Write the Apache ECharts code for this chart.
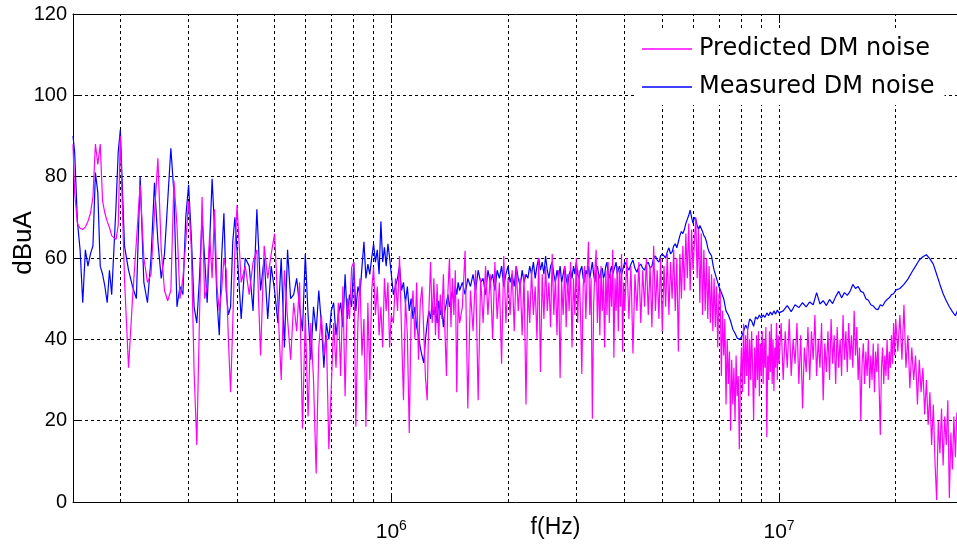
<!DOCTYPE html>
<html>
<head>
<meta charset="utf-8">
<script src="https://cdn.jsdelivr.net/npm/echarts@6/dist/echarts.min.js"></script>
<style>
  html, body { margin: 0; padding: 0; background: #fff; }
  #chart { width: 957px; height: 544px; }
</style>
</head>
<body>
<div id="chart"></div>
<script>
// Sweep frequencies (kHz) common to both spectra, 151 kHz - 7 MHz
const freqSharedKHz = [
  // 151 kHz - 200 kHz
  151,152.5,155,157.5,160,162.5,165,167.5,170,172.5,175,177.5,180,182.5,185,187.5,190,192.5,195,197.5,200,
  // 205 kHz - 400 kHz
  205,210,215,220,225,230,235,240,245,250,255,260,265,270,275,280,285,290,295,300,
  305,310,315,320,325,330,335,340,345,350,355,360,365,370,375,380,385,390,395,400,
  // 410 kHz - 1 MHz
  410,420,430,440,450,460,470,480,490,500,510,520,530,540,550,560,570,580,590,600,
  610,620,630,640,650,660,670,680,690,700,710,720,730,740,750,760,770,780,790,800,
  810,820,830,840,850,860,870,880,890,900,910,920,930,940,950,960,970,980,990,1000,
  // 1 MHz - 1.5 MHz
  1012.5,1025,1037.5,1050,1062.5,1075,1087.5,1100,1112.5,1125,1137.5,1150,1162.5,1175,1187.5,1200,1212.5,1225,1237.5,1250,
  1262.5,1275,1287.5,1300,1312.5,1325,1337.5,1350,1362.5,1375,1387.5,1400,1412.5,1425,1437.5,1450,1462.5,1475,1487.5,1500,
  // 1.5 MHz - 4 MHz
  1525,1550,1575,1600,1625,1650,1675,1700,1725,1750,1775,1800,1825,1850,1875,1900,1925,1950,1975,2000,
  2025,2050,2075,2100,2125,2150,2175,2200,2225,2250,2275,2300,2325,2350,2375,2400,2425,2450,2475,2500,
  2525,2550,2575,2600,2625,2650,2675,2700,2725,2750,2775,2800,2825,2850,2875,2900,2925,2950,2975,3000,
  3025,3050,3075,3100,3125,3150,3175,3200,3225,3250,3275,3300,3325,3350,3375,3400,3425,3450,3475,3500,
  3525,3550,3575,3600,3625,3650,3675,3700,3725,3750,3775,3800,3825,3850,3875,3900,3925,3950,3975,4000,
  // 4 MHz - 7 MHz
  4050,4100,4150,4200,4250,4300,4350,4400,4450,4500,4550,4600,4650,4700,4750,4800,4850,4900,4950,5000,
  5050,5100,5150,5200,5250,5300,5350,5400,5450,5500,5550,5600,5650,5700,5750,5800,5850,5900,5950,6000,
  6050,6100,6150,6200,6250,6300,6350,6400,6450,6500,6550,6600,6650,6700,6750,6800,6850,6900,6950,7000
];

// Simulation sweep above 7 MHz (kHz)
const freqPredictedHighKHz = [
  7050,7100,7150,7200,7250,7300,7350,7400,7450,7500,7550,7600,7650,7700,7750,7800,7850,7900,7950,8000,
  8050,8100,8150,8200,8250,8300,8350,8400,8450,8500,8550,8600,8650,8700,8750,8800,8850,8900,8950,9000,
  9050,9100,9150,9200,9250,9300,9350,9400,9450,9500,9550,9600,9650,9700,9750,9800,9850,9900,9950,10000,
  10125,10250,10375,10500,10625,10750,10875,11000,11125,11250,11375,11500,11625,11750,11875,12000,12125,12250,12375,12500,
  12625,12750,12875,13000,13125,13250,13375,13500,13625,13750,13875,14000,14125,14250,14375,14500,14625,14750,14875,15000,
  15125,15250,15375,15500,15625,15750,15875,16000,16125,16250,16375,16500,16625,16750,16875,17000,17125,17250,17375,17500,
  17625,17750,17875,18000,18125,18250,18375,18500,18625,18750,18875,19000,19125,19250,19375,19500,19625,19750,19875,20000,
  20250,20500,20750,21000,21250,21500,21750,22000,22250,22500,22750,23000,23250,23500,23750,24000,24250,24500,24750,25000,
  25250,25500,25750,26000,26250,26500,26750,27000,27250,27500,27750,28000,28250,28500,28750,29000,29250,29500,29750,30000
];

// Receiver sweep above 7 MHz (kHz)
const freqMeasuredHighKHz = [
  7100,7200,7300,7400,7500,7600,7700,7800,7900,8000,8100,8200,8300,8400,8500,8600,8700,8800,8900,9000,
  9100,9200,9300,9400,9500,9600,9700,9800,9900,10000,
  10250,10500,10750,11000,11250,11500,11750,12000,12250,12500,12750,13000,13250,13500,13750,14000,14250,14500,14750,15000,
  15250,15500,15750,16000,16250,16500,16750,17000,17250,17500,17750,18000,18250,18500,18750,19000,19250,19500,19750,20000,
  20500,21000,21500,22000,22500,23000,23500,24000,24500,25000,25500,26000,26500,27000,27500,28000,28500,29000,29500,30000
];

// Simulated DM noise spectrum (dBuA)
const predictedDM = [
  88,76,68.5,67.3,67,67.6,69,71,75,88,83,88,74,71,69,67.5,65.5,65,64.6,68,90,
  55,33,50,64,78,60,54,56,71,84.5,62,52,49.5,52,79,68,50,55,64,74,
  62,32,14,45,75,50,53,66,55,72,53,47,52,60,57,40,27,44,62,73,
  54,58,51,59,62,36,63,55,61,66,48,30,57,45,35,49,42,54,18,46,
  21,44,30,7,38,46,36,41,13,28,44,33,49,31,53,26,50,45,57.7,59,
  18.5,44,55,36,45,18.5,49,30,52,57.7,46,53,41,48,38,55,47,54,38,46,
  44,55,47,60.5,42,25,50,41,17,46,52,40,54,35,49,53,42,30.5,25,47,
  59,44,55,41,53.6,40,51,45,56,42,31,52,60,43,55,46,57,27,50,44,
  48,61.8,23,52,42,57,25,55,44,58,46,56,40,59,45,54,34,60.5,44,55,
  46,57,42,58,47,55,41,56,24,52,44,57,46,53,40,60,32,56,45,58,
  47,54,43,61,46,55,41,57,30.5,54,46,58,43,56,47,59,38,55,46,60,
  44,57,47,31.5,53,58,45,56,64,46,55,20.5,48,57,62,44,56,41,58,47,
  55,38,57,46,59,44,56,48,62,35.5,55,47,58,42,57,48,61,37,54,47,
  60,45,58,36.5,56,47,59,44,57,48,60,46,58,43,63,47,57,45,60,42,
  58,48,61,46,59,50,62,47,60,37,61,50,63,52,66,55,68.5,52,67,57,
  64,70,55,67,49,66,46,62,47,60,45,58,44,56,42,55,43,53,38,51,
  // above 7 MHz
  52,31,47,36,45,24,40,29,37,17.5,35,24,33,20,36,26,31,13,30,38,
  27,43.8,29,41,31,43,26,40,30,42,33,20,38,28,41,30,42,26,39,31,
  42,29,40,33,43,16,36,30,42,32,43.8,29,40,27.3,38,33,44,30,41,34,
  44,30,42,33,45,31,40,34,44,29,41,23,38,32,43,30,42,35,46,31,
  40,33,44,25,39,32,42,30,45,34,41,29,43,33,40,31,46,35,42,32,
  44,35,41,33,47,36,43,30,38,20,34,39,29,37,31,40,28,36,30,39,
  27,37,32,39,28,16.5,33,38,29,36,31,40,30,37,33,41,34,44,36,45,
  37,46,35,48.5,33,41,28,38,30,36,24,35,27,33,21.5,30,19,27,14,24,
  10,0.5,20,12,23,9,21,14,25,1,17,8,21,11,22,13,20,10,18,14
];

// Measured DM noise spectrum (dBuA)
const measuredDM = [
  90,86,69,62,49,62,58,61,63,81,76,58,56,53,49,57,51,62,73,86,91.5,
  63,57,53,50,80,54,49,60,78.5,64,55,61,74,87,76,48,53,51,70,78,
  65,48,44,55,70,60,49,64,79.5,67,50,41,60,71,52,46,48,64,70,62,
  45,60,58,47,72,52,60,45,58,52,44,60,38,62,50,51,55,48,42,61,
  46,35,48,42,52,44,33,44,40,47,49,41,46,49,43,56,45,51,48,59,
  47,53,51,57.7,64,55,58.5,56,60,63.5,59,62,56,69,59,62.6,58,63.5,60,56,
  51,53,55,58,52,54,49,53,47,50,45,48,43,41,38,36,34.2,40,44,47,
  45,49,46,48,44,49.5,46,48,43,47,49,51,48,50,52,49,53,51,54,52,
  54,51,55,53,56,52,57,54,55,51,57,54,56,52,57,55,58,53,56,58,
  54,56,53,58,55,53,57,54,56,55,58,56,59,55,58,60,57,59,56,60.5,
  57,55,58,59,56,54,57,55,58,54,56,58,55,53,56,57,55,58,56,59,
  56,55,57,58,55,54,57,56,58,55,57,59,56,54,57,58,56,55,57,57.5,
  55,56,58,59,56,55,57,58,56,56,58,59,56,57,58,58,56,56,58,59,
  58,57,58.5,59.5,57.5,56.5,58,58.5,57.5,57,58.5,59,57.5,58,60,60.5,59.5,59,60.5,61,
  60.5,60,61.5,62.5,61,61.5,63,63.5,62.5,64,65.5,66.5,66,67,68.5,69.5,70.5,71.8,70,68.5,
  70,69.5,68,67,68,67.7,66.5,65.5,65,64,62.5,61.5,61,60.5,58.5,57,56,55,54,53,
  // above 7 MHz
  51.5,50,47,46,44.5,42.5,41.5,40.3,40,40.5,42,43.5,42.5,45,44.5,43.2,45.5,45,46,45.2,
  46,45.4,46.5,45.8,46.7,46,47,46.2,47.2,46.5,
  47,48.3,46.8,48.5,47.8,49,48,49.2,48.5,51.5,48.7,49.5,48.3,49.8,48.8,50.5,51.8,50.2,51.5,50.8,
  51.8,53.5,52.5,53,51.8,51.5,50,49.6,48.5,48.2,47.5,47.3,48.5,48.2,49.2,49.8,50.2,51,51.2,52.1,
  52.5,53.5,54.8,56.5,58,59.5,60.3,60.8,59.8,58.5,56,53.5,51.2,49.5,48,46.8,45.8,47.5,48,48.5
];

// Log-decade grid positions (Hz)
const gridFreqHz = [
  2e5,3e5,4e5,5e5,6e5,7e5,8e5,9e5,1e6,
  2e6,3e6,4e6,5e6,6e6,7e6,8e6,9e6,1e7,
  2e7,3e7
];

const seriesNames = ['Predicted DM noise', 'Measured DM noise'];
const yTicks = { min: 0, max: 120, step: 20 };
const xRange = { min: 151000, max: 30000000 };

const FONT = "'Liberation Sans', Arial, sans-serif";
const WIDE_FONT = "'DejaVu Sans', sans-serif";

function pairs(freqs, values) {
  return freqs.map((f, i) => [f * 1000, values[i]]);
}

function decadeLabel(v) {
  const e = Math.round(Math.log10(v));
  if (Math.abs(Math.log10(v) - e) > 1e-6) return '';
  return '{b|10}{s|' + e + '}';
}

const chart = echarts.init(document.getElementById('chart'), null, { renderer: 'canvas' });

chart.setOption({
  animation: false,
  backgroundColor: '#fff',
  grid: {
    left: 73, right: -7, top: 14, bottom: 42,
    outerBoundsMode: 'none'
  },
  legend: {
    data: seriesNames.map(n => ({ name: n, icon: 'rect' })),
    orient: 'vertical',
    left: 636,
    top: 31,
    padding: [4, 10, 4, 6],
    itemGap: 10,
    itemWidth: 50,
    itemHeight: 1.5,
    backgroundColor: '#fff',
    textStyle: { fontFamily: WIDE_FONT, fontSize: 24, color: '#000', lineHeight: 28, padding: [0, 0, 0, 2] }
  },
  xAxis: [
    {
      type: 'log',
      logBase: 10,
      min: xRange.min,
      max: xRange.max,
      position: 'bottom',
      name: 'f(Hz)',
      nameLocation: 'middle',
      nameGap: 14,
      nameMoveOverlap: false,
      nameTextStyle: { fontFamily: FONT, fontSize: 23, color: '#000', padding: [0, 0, 0, 74] },
      axisLine: { show: true, onZero: false, lineStyle: { color: '#000', width: 1 } },
      axisTick: { show: true, inside: true, length: 9, lineStyle: { color: '#000' } },
      splitLine: { show: false },
      axisLabel: {
        show: true,
        margin: 17,
        showMinLabel: false,
        showMaxLabel: false,
        formatter: decadeLabel,
        rich: {
          b: { fontFamily: FONT, fontSize: 21, color: '#000', lineHeight: 26 },
          s: { fontFamily: FONT, fontSize: 14, color: '#000', lineHeight: 14, verticalAlign: 'top' }
        }
      }
    },
    {
      type: 'log',
      logBase: 10,
      min: xRange.min,
      max: xRange.max,
      position: 'top',
      axisLine: { show: true, onZero: false, lineStyle: { color: '#000', width: 1 } },
      axisTick: { show: true, inside: true, length: 9, lineStyle: { color: '#000' } },
      axisLabel: { show: false },
      splitLine: { show: false }
    }
  ],
  yAxis: {
    type: 'value',
    min: yTicks.min,
    max: yTicks.max,
    interval: yTicks.step,
    name: 'dBuA',
    nameLocation: 'middle',
    nameGap: 36,
    nameMoveOverlap: false,
    nameRotate: 90,
    nameTextStyle: { fontFamily: FONT, fontSize: 26, color: '#000', padding: [0, 0, 0, 30] },
    axisLine: { show: true, onZero: false, lineStyle: { color: '#000', width: 1 } },
    axisTick: { show: true, inside: true, length: 8, lineStyle: { color: '#000' } },
    axisLabel: { fontFamily: FONT, fontSize: 20, color: '#000', margin: 6 },
    splitLine: { show: true, lineStyle: { color: '#000', width: 1, type: [3, 3] } }
  },
  series: [
    {
      name: seriesNames[1],
      type: 'line',
      xAxisIndex: 0,
      data: pairs(freqSharedKHz.concat(freqMeasuredHighKHz), measuredDM),
      symbol: 'none',
      z: 2,
      lineStyle: { color: '#0000ff', width: 1.2 },
      itemStyle: { color: '#0000ff' },
      markLine: {
        silent: true,
        z: 1,
        symbol: ['none', 'none'],
        label: { show: false },
        lineStyle: { color: '#000', width: 1, type: [3, 3] },
        emphasis: { disabled: true },
        data: gridFreqHz.map(f => ({ xAxis: f }))
      }
    },
    {
      name: seriesNames[0],
      type: 'line',
      xAxisIndex: 0,
      data: pairs(freqSharedKHz.concat(freqPredictedHighKHz), predictedDM),
      symbol: 'none',
      z: 3,
      lineStyle: { color: '#ff00ff', width: 1.2 },
      itemStyle: { color: '#ff00ff' }
    }
  ]
});
</script>
</body>
</html>
